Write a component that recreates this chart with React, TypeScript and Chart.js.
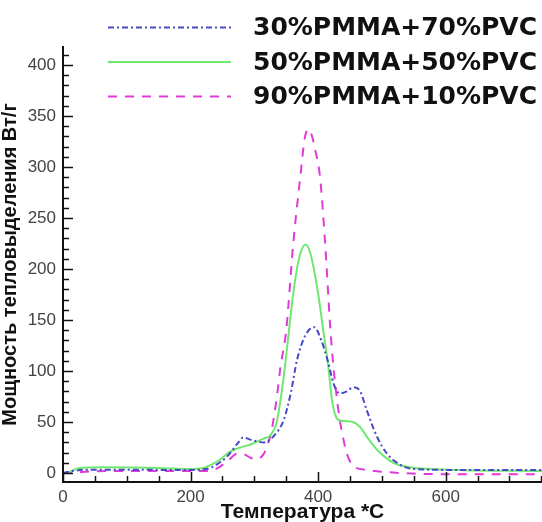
import { useEffect, useRef } from "react";
import { Chart, registerables } from "chart.js";

Chart.register(...registerables);

// ---- data ----
const seriesNames = ["30%PMMA+70%PVC", "50%PMMA+50%PVC", "90%PMMA+10%PVC"];

const t30 = [0, 15, 40, 200, 225, 257, 275, 283, 292, 304, 315, 330, 346, 357, 367, 380, 394, 405, 416, 424, 434, 445, 455, 466, 476, 492, 508, 529, 549, 622, 751];
const p30 = [0, 2, 3.3, 3, 4, 16, 30, 35, 33, 31, 30, 36, 52, 78, 111, 135, 143, 130, 108, 88, 78, 80, 84, 80, 62, 36, 19, 8, 4, 3, 3];

const t50 = [0, 10, 25, 60, 150, 200, 220, 235, 246, 262, 278, 294, 315, 325, 335, 343, 349, 361, 370, 380, 388, 400, 408, 416, 422, 428, 432, 440, 455, 466, 476, 492, 518, 544, 622, 751];
const p50 = [0, 1, 5, 5.6, 5, 4, 5, 9, 13, 21, 25, 28, 34, 37, 50, 80, 110, 176, 210, 224, 215, 176, 140, 104, 70, 55, 52, 51, 50, 45, 36, 23, 10, 5.6, 3, 2];

const t90 = [0, 20, 40, 100, 200, 220, 236, 257, 273, 285, 294, 304, 315, 322, 328, 336, 341, 350, 361, 372, 379, 384, 389, 396, 403, 411, 419, 424, 430, 434, 440, 445, 455, 476, 518, 570, 751];
const p90 = [0, 0.5, 1.5, 2, 2, 2, 3, 11, 19, 18, 15, 13.5, 19, 30, 45, 78, 104, 140, 225, 290, 328, 337, 333, 315, 290, 225, 143, 104, 70, 52, 32, 19, 7, 3, 0.5, -1, -1.3];

const xTicks = [0, 200, 400, 600];
const yTicks = [0, 50, 100, 150, 200, 250, 300, 350, 400];

const xTitle = "Температура *C";
const yTitle = "Мощность тепловыделения Вт/г";

const zip = (xs: number[], ys: number[]) => xs.map((x, i) => ({ x, y: ys[i] }));

const innerTicks = {
  id: "innerTicks",
  afterDraw(chart: any) {
    const { ctx, chartArea } = chart;
    const x = chart.scales.x;
    const y = chart.scales.y;
    ctx.save();
    ctx.strokeStyle = "#111";
    ctx.lineWidth = 1.5;
    for (let v = 0; v <= x.max; v += 50) {
      const px = Math.round(x.getPixelForValue(v)) + 0.5;
      const len = v % 200 === 0 ? 10 : 6;
      ctx.beginPath();
      ctx.moveTo(px, chartArea.bottom);
      ctx.lineTo(px, chartArea.bottom - len);
      ctx.stroke();
    }
    for (let v = 0; v <= y.max; v += 10) {
      const py = Math.round(y.getPixelForValue(v)) + 0.5;
      const len = v % 50 === 0 ? 10 : 6;
      ctx.beginPath();
      ctx.moveTo(chartArea.left, py);
      ctx.lineTo(chartArea.left + len, py);
      ctx.stroke();
    }
    ctx.restore();
  },
};

const customLegend = {
  id: "customLegend",
  afterDraw(chart: any) {
    const { ctx } = chart;
    ctx.save();
    chart.data.datasets.forEach((ds: any, i: number) => {
      const cy = 27.5 + i * 34.5;
      ctx.strokeStyle = ds.borderColor;
      ctx.lineWidth = ds.borderWidth;
      ctx.setLineDash(ds.borderDash || []);
      ctx.beginPath();
      ctx.moveTo(108, cy);
      ctx.lineTo(231, cy);
      ctx.stroke();
      ctx.setLineDash([]);
      ctx.fillStyle = "#111";
      ctx.font = "bold 25px 'DejaVu Sans'";
      ctx.textBaseline = "middle";
      ctx.textAlign = "left";
      ctx.fillText(ds.label, 253, cy + 1);
    });
    ctx.restore();
  },
};

export default function App() {
  const ref = useRef<HTMLCanvasElement | null>(null);

  useEffect(() => {
    if (!ref.current) return;
    const chart = new Chart(ref.current, {
      type: "line",
      data: {
        datasets: [
          {
            label: seriesNames[0],
            data: zip(t30, p30),
            borderColor: "#4848c8",
            borderWidth: 2,
            borderDash: [6, 3, 2, 3],
            pointRadius: 0,
            cubicInterpolationMode: "monotone",
            fill: false,
          },
          {
            label: seriesNames[1],
            data: zip(t50, p50),
            borderColor: "#6fe86f",
            borderWidth: 2,
            pointRadius: 0,
            cubicInterpolationMode: "monotone",
            fill: false,
          },
          {
            label: seriesNames[2],
            data: zip(t90, p90),
            borderColor: "#e03ad8",
            borderWidth: 2,
            borderDash: [9, 8],
            pointRadius: 0,
            cubicInterpolationMode: "monotone",
            fill: false,
          },
        ],
      },
      options: {
        animation: false,
        responsive: true,
        maintainAspectRatio: false,
        layout: { padding: { top: 47, right: 0, left: 0, bottom: 0 } },
        plugins: { legend: { display: false }, tooltip: { enabled: false } },
        scales: {
          x: {
            type: "linear",
            min: 0,
            max: 751,
            grid: { display: false, drawTicks: false },
            border: { display: true, color: "#111", width: 2 },
            afterBuildTicks: (s: any) => {
              s.ticks = xTicks.map((v) => ({ value: v }));
            },
            afterFit: (s: any) => {
              s.height = 40;
            },
            ticks: {
              padding: 5,
              color: "#444",
              font: { family: "'Liberation Sans', Arial", size: 17 },
              maxRotation: 0,
            },
            title: {
              display: true,
              text: xTitle,
              color: "#111",
              padding: { top: 0, bottom: -3 },
              font: { family: "'Liberation Sans', Arial", size: 21, weight: "bold" },
            },
          },
          y: {
            type: "linear",
            min: -8.8,
            max: 417.6,
            grid: { display: false, drawTicks: false },
            border: { display: true, color: "#111", width: 2 },
            afterBuildTicks: (s: any) => {
              s.ticks = yTicks.map((v) => ({ value: v }));
            },
            afterFit: (s: any) => {
              s.width = 63;
            },
            ticks: {
              padding: 7,
              color: "#444",
              font: { family: "'Liberation Sans', Arial", size: 17 },
            },
            title: {
              display: true,
              text: yTitle,
              color: "#111",
              padding: { top: -1.5, bottom: 0 },
              font: { family: "'Liberation Sans', Arial", size: 20, weight: "bold" },
            },
          },
        },
      },
      plugins: [innerTicks, customLegend],
    } as any);
    return () => chart.destroy();
  }, []);

  return (
    <div style={{ position: "fixed", left: 0, top: 0, width: 542, height: 522, background: "#fff" }}>
      <canvas ref={ref} />
    </div>
  );
}
